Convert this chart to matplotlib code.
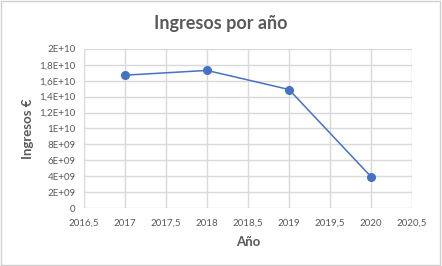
import matplotlib
matplotlib.use('Agg')
import matplotlib.pyplot as plt
from matplotlib.patches import Rectangle

years    = [ 2017, 2018, 2019, 2020 ]
ingresos = [ 1.67e10, 1.73e10, 1.49e10, 3.95e9 ]

xticks  = [ 2016.5, 2017, 2017.5, 2018, 2018.5, 2019, 2019.5, 2020, 2020.5 ]
xlabels = [ '2016,5', '2017', '2017,5', '2018', '2018,5', '2019', '2019,5', '2020', '2020,5' ]
yticks  = [ 0, 2e9, 4e9, 6e9, 8e9, 1e10, 1.2e10, 1.4e10, 1.6e10, 1.8e10, 2e10 ]
ylabels = [ '0', '2E+09', '4E+09', '6E+09', '8E+09', '1E+10', '1,2E+10', '1,4E+10',
            '1,6E+10', '1,8E+10', '2E+10' ]

plt.rcParams['font.family'] = [ 'Lato', 'DejaVu Sans' ]
text_col = '#595959'
grid_col = '#d9d9d9'

fig = plt.figure( figsize=(4.42, 2.66), dpi=100 )
fig.patches.append( Rectangle( (0.002, 0.004), 0.994, 0.992, transform=fig.transFigure,
                               fill=False, edgecolor='#d0d0d0', linewidth=1 ) )
ax = fig.add_axes( [ 0.190, 0.218, 0.742, 0.598 ] )

ax.plot( years, ingresos, '-o', color='#4472c4', markersize=5.5, linewidth=1.1,
         clip_on=False, zorder=3 )

ax.set_xlim( 2016.5, 2020.5 )
ax.set_ylim( 0, 2e10 )
ax.set_xticks( xticks )
ax.set_xticklabels( xlabels )
ax.set_yticks( yticks )
ax.set_yticklabels( ylabels )
ax.tick_params( length=0, labelsize=7, colors=text_col, pad=6 )
ax.tick_params( axis='x', pad=8 )

for s in ax.spines.values():
  s.set_visible( False )
ax.grid( color=grid_col, linewidth=1 )
ax.set_axisbelow( True )

fig.text( 0.5, 0.913, 'Ingresos por año', fontsize=13, fontweight='bold', color=text_col,
          ha='center', va='center' )
ax.set_xlabel( 'Año', fontsize=9.5, fontweight='bold', color=text_col, labelpad=6 )
ax.set_ylabel( 'Ingresos €', fontsize=9.5, fontweight='bold', color=text_col, labelpad=4 )

plt.savefig( 'out.png', dpi=100 )
